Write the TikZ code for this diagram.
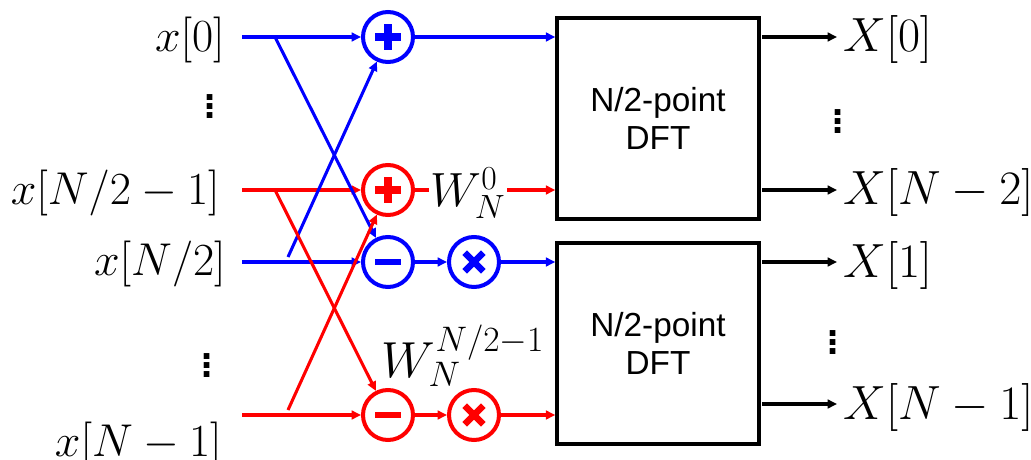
\RequirePackage{fix-cm}
\documentclass[tikz,border=0pt]{standalone}
\usepackage{fontspec}
\newfontfamily\arialf{Liberation Sans}
\usetikzlibrary{arrows.meta,calc}
\definecolor{cblue}{RGB}{0,0,255}
\definecolor{cred}{RGB}{255,0,0}
\newcommand\plusmark[2]{%
  \draw[#2,line width=6pt] ([xshift=-9.4pt]#1.center) -- ([xshift=9.4pt]#1.center);
  \draw[#2,line width=6pt] ([yshift=-9.4pt]#1.center) -- ([yshift=9.4pt]#1.center);}
\newcommand\minusmark[2]{%
  \draw[#2,line width=5.2pt] ([xshift=-9.4pt]#1.center) -- ([xshift=9.4pt]#1.center);}
\newcommand\timesmark[2]{%
  \draw[#2,line width=5pt] ([shift={(-7pt,-7pt)}]#1.center) -- ([shift={(7pt,7pt)}]#1.center);
  \draw[#2,line width=5pt] ([shift={(-7pt,7pt)}]#1.center) -- ([shift={(7pt,-7pt)}]#1.center);}
\newcommand\vdotsq{\rlap{.}\raisebox{6.5pt}{\rlap{.}}\raisebox{13pt}{.}}
\begin{document}
\begin{tikzpicture}[x=0.75pt,y=-0.75pt,
  circ/.style={circle,draw,line width=3pt,minimum size=37.5pt,inner sep=0pt},
  conn/.style={line width=2.3pt,-{Triangle[length=7pt,width=6.5pt]}},
  outarr/.style={line width=2.3pt,black,-{Triangle[length=7pt,width=6.5pt]}},
  dftbox/.style={draw,line width=2.6pt,minimum width=151.5pt,minimum height=150.75pt,inner sep=0pt,
     align=center,font=\arialf\fontsize{25}{29}\selectfont},
  inlab/.style={anchor=east,inner sep=0pt,font=\fontsize{34.5}{38}\selectfont},
  outlab/.style={anchor=west,inner sep=0pt,font=\fontsize{36}{40}\selectfont},
  wlab/.style={inner sep=1pt,font=\fontsize{36}{40}\selectfont},
  dotsl/.style={inner sep=0pt,anchor=base,font=\arialf\bfseries\fontsize{30}{32}\selectfont}]
\useasboundingbox (0,0) rectangle (1031,460);
% input labels
\node[inlab] (x0) at (225,40) {$x[0]$};
\node[inlab] (x1) at (220,193) {$x[N/2-1]$};
\node[inlab] (x2) at (226,264) {$x[N/2]$};
\node[inlab] (x3) at (222,445) {$x[N-1]$};
\node[dotsl] (d1) at (210,118) {\vdotsq};
\node[dotsl] (d2) at (207,377) {\vdotsq};
% line starts and branch points
\coordinate (s0) at (242,37);
\coordinate (s1) at (242,190);
\coordinate (s2) at (242,262);
\coordinate (s3) at (242,415);
\coordinate (b0) at (275,37);
\coordinate (b1) at (275,190);
\coordinate (b2) at (288,257);
\coordinate (b3) at (288,410);
% operator circles
\node[circ,cblue] (ap) at (388,37) {};
\node[circ,cred]  (rp) at (388,190) {};
\node[circ,cblue] (am) at (388,262) {};
\node[circ,cred]  (rm) at (388,415) {};
\node[circ,cblue] (at) at (474,262) {};
\node[circ,cred]  (rt) at (474,415) {};
\plusmark{ap}{cblue}
\plusmark{rp}{cred}
\minusmark{am}{cblue}
\minusmark{rm}{cred}
\timesmark{at}{cblue}
\timesmark{rt}{cred}
% DFT boxes
\node[dftbox] (dft1) at (658,118.5) {N/2-point\\DFT};
\node[dftbox] (dft2) at (658,343.5) {N/2-point\\DFT};
% horizontal connectors
\draw[conn,cblue] (s0) -- (ap);
\draw[conn,cred]  (s1) -- (rp);
\draw[conn,cblue] (s2) -- (am);
\draw[conn,cred]  (s3) -- (rm);
\draw[conn,cblue] (ap) -- (ap -| dft1.west);
\draw[conn,cred]  (rp) -- (rp -| dft1.west);
\draw[conn,cblue] (am) -- (at);
\draw[conn,cred]  (rm) -- (rt);
\draw[conn,cblue] (at) -- (at -| dft2.west);
\draw[conn,cred]  (rt) -- (rt -| dft2.west);
% butterfly diagonals
\draw[conn,cblue] (b0) -- (am);
\draw[conn,cblue] (b2) -- (ap);
\draw[conn,cred]  (b1) -- (rm);
\draw[conn,cred]  (b3) -- (rp);
% twiddle labels
\node[wlab,fill=white] (w0) at (468,193) {$W_N^0$};
\node[wlab,font=\fontsize{38}{42}\selectfont] (w1) at (463,356) {$W_N^{N/2-1}$};
% outputs
\node[outlab] (X0) at (843,40) {$X[0]$};
\node[outlab] (X1) at (843,193) {$X[N-2]$};
\node[outlab] (X2) at (843,265) {$X[1]$};
\node[outlab] (X3) at (843,407) {$X[N-1]$};
\node[dotsl] (d3) at (838,133) {\vdotsq};
\node[dotsl] (d4) at (833,354) {\vdotsq};
\coordinate (o0) at (762,37);
\coordinate (o1) at (762,190);
\coordinate (o2) at (762,262);
\coordinate (o3) at (762,404);
\draw[outarr] (o0) -- ([xshift=-4.5pt]o0 -| X0.west);
\draw[outarr] (o1) -- ([xshift=-4.5pt]o1 -| X1.west);
\draw[outarr] (o2) -- ([xshift=-4.5pt]o2 -| X2.west);
\draw[outarr] (o3) -- ([xshift=-4.5pt]o3 -| X3.west);
\end{tikzpicture}
\end{document}
